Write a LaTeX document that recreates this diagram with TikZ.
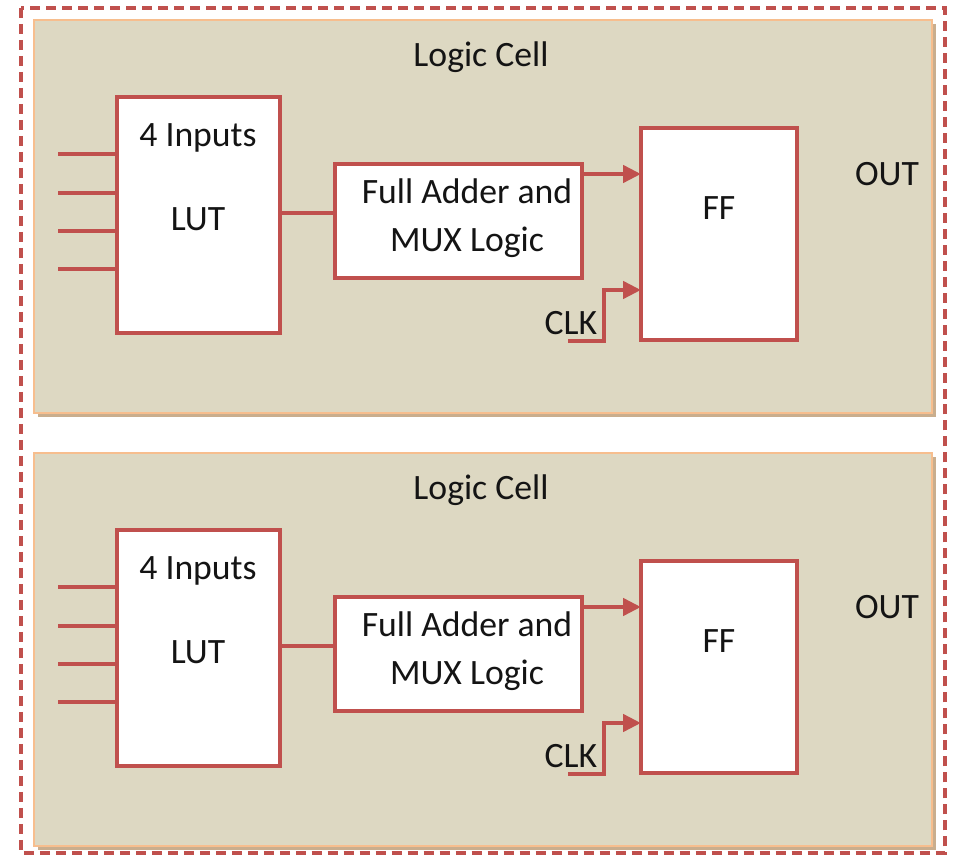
\documentclass[tikz,border=0pt]{standalone}
\usepackage{fontspec}
\setmainfont{Carlito}
\usepackage{tikz}
\usetikzlibrary{positioning,arrows.meta,shadows}
\definecolor{wire}{HTML}{C0504D}
\definecolor{cellfill}{HTML}{DDD8C2}
\definecolor{cellline}{HTML}{F7BE8E}
\definecolor{cellshade}{HTML}{C9AE8E}
\definecolor{ink}{HTML}{141414}
\tikzset{
  cell/.style={rectangle, draw=cellline, fill=cellfill, line width=1.1pt,
               minimum width=17.96cm, minimum height=7.86cm, inner sep=0pt, outer sep=0pt,
               drop shadow={shadow xshift=0.08cm, shadow yshift=-0.08cm, fill=cellshade, opacity=1}},
  blk/.style={rectangle, draw=wire, fill=white, line width=2.5pt, inner sep=0pt, outer sep=0pt},
  txt/.style={font=\fontsize{20.3}{27}\selectfont, text=ink, inner sep=0pt, align=center},
  wireln/.style={draw=wire, line width=2.5pt},
  arr/.style={wireln, -{Triangle[length=0.36cm, width=0.34cm]}},
  frame/.style={draw=wire, line width=2pt, dash pattern=on 0.2cm off 0.12cm},
}

\begin{document}
\begin{tikzpicture}[x=0.02cm, y=-0.02cm]
  \useasboundingbox (0,0) rectangle (953,857);
  \foreach \c/\y in {1/0, 2/433} {
    \node[cell] (cell\c) at (483, \y+216.5) {};
    \node[txt] (title\c) at (481, \y+57) {Logic Cell};
    \node[blk, minimum width=3.26cm, minimum height=4.72cm] (lut\c) at (198.5, \y+215) {};
    \node[txt] (lutin\c) at (198, \y+138) {4 Inputs};
    \node[txt] (lutname\c) at (198, \y+219) {LUT};
    \node[blk, minimum width=4.94cm, minimum height=2.28cm] (fa\c) at (458.5, \y+221) {};
    \node[txt] (faname\c) at (467, \y+218) {Full Adder and\\MUX Logic};
    \node[blk, minimum width=3.12cm, minimum height=4.24cm] (ff\c) at (719, \y+234) {};
    \node[txt] (ffname\c) at (719, \y+208) {FF};
    \node[txt] (out\c) at (887, \y+174) {OUT};
    \node[txt] (clklbl\c) at (571, \y+323) {CLK};
    \foreach \k/\v in {1/154, 2/193, 3/231, 4/269} {
      \coordinate (in\c-\k) at (58, \y+\v);
      \draw[wireln] (in\c-\k) -- (lut\c.west |- in\c-\k);
    }
    \coordinate (mid\c) at (300, \y+213);
    \draw[wireln] (lut\c.east |- mid\c) -- (fa\c.west |- mid\c);
    \coordinate (sum\c) at (600, \y+174);
    \draw[arr] (fa\c.east |- sum\c) -- (ff\c.west |- sum\c);
    \coordinate (clk\c) at (568, \y+341);
    \coordinate (cb\c) at (604, \y+290);
    \draw[arr] (clk\c) -| (cb\c) -- (ff\c.west |- cb\c);
  }
  \draw[frame] (21,8) rectangle (945,853);
\end{tikzpicture}
\end{document}
